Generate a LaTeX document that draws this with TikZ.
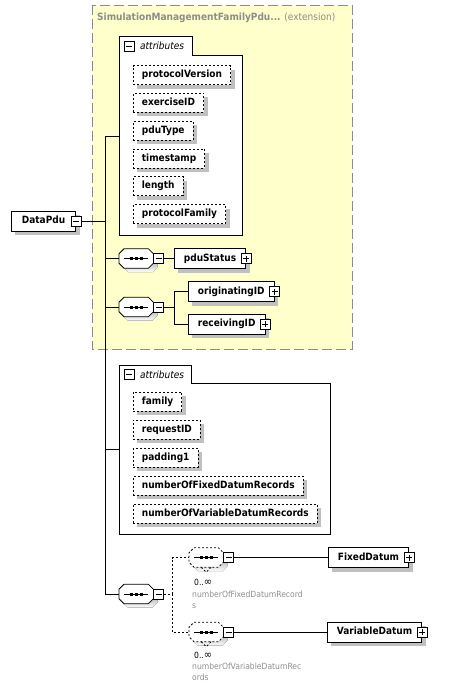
\documentclass[tikz,border=0pt]{standalone}
\usepackage{fontspec}
\setmainfont{DejaVu Sans Condensed}[
  BoldFont   = {DejaVu Sans Condensed Bold},
  ItalicFont = {DejaVu Sans Condensed Oblique}]
\usetikzlibrary{shadows,positioning}
\definecolor{extfill}{HTML}{FFFFCC}
\definecolor{extline}{HTML}{8C8C8C}
\definecolor{shade}{HTML}{C0C0C0}
\definecolor{notegray}{HTML}{8F8F8F}
\tikzset{
  boxshadow/.style = {drop shadow={shadow xshift=4pt, shadow yshift=-4pt,
                      fill=shade, opacity=1}},
  elemnode/.style  = {shape=rectangle, draw, fill=white, line width=0.8pt,
                      boxshadow, minimum height=20pt, inner xsep=9.5pt,
                      inner ysep=0pt, text height=7.5pt, text depth=2.2pt,
                      font=\fontsize{10}{12}\selectfont\bfseries, anchor=west},
  attrnode/.style  = {elemnode, minimum height=19pt, inner xsep=8.5pt,
                      dash pattern=on 2pt off 2pt},
  seqnode/.style   = {shape=rectangle, minimum width=34pt,
                      minimum height=19pt, inner sep=0pt, anchor=west},
  togglebox/.style = {draw, fill=white, line width=0.7pt,
                      minimum size=10pt, inner sep=0pt},
  minusbox/.style  = {togglebox, path picture={
      \draw ([xshift=2pt]path picture bounding box.west)
         -- ([xshift=-2pt]path picture bounding box.east);}},
  plusbox/.style   = {togglebox, path picture={
      \draw ([xshift=2pt]path picture bounding box.west)
         -- ([xshift=-2pt]path picture bounding box.east);
      \draw ([yshift=-2pt]path picture bounding box.north)
         -- ([yshift=2pt]path picture bounding box.south);}},
  grpbox/.style    = {draw, fill=white, line width=0.8pt},
  grplabel/.style  = {font=\fontsize{10}{12}\selectfont\itshape,
                      inner sep=0pt, anchor=west},
  link/.style      = {line width=0.8pt},
  optlink/.style   = {link, dash pattern=on 2pt off 2pt},
  mult/.style      = {font=\fontsize{8.5}{10}\selectfont, inner sep=0pt,
                      anchor=west},
  note/.style      = {font=\fontsize{8.5}{11.5}\selectfont, text=notegray,
                      align=left, inner sep=0pt, anchor=north west}
}
% octagon round a sequence node: node, x offset, y offset
\newcommand\seqoutline[3]{%
  ([xshift=#2+5pt,yshift=#3]#1.north west)
  -- ([xshift=#2-5pt,yshift=#3]#1.north east)
  -- ([xshift=#2,yshift=#3-5pt]#1.north east)
  -- ([xshift=#2,yshift=#3+5pt]#1.south east)
  -- ([xshift=#2-5pt,yshift=#3]#1.south east)
  -- ([xshift=#2+5pt,yshift=#3]#1.south west)
  -- ([xshift=#2,yshift=#3+5pt]#1.south west)
  -- ([xshift=#2,yshift=#3-5pt]#1.north west) -- cycle}

\begin{document}
\begin{tikzpicture}[x=1pt, y=-1pt]
  \useasboundingbox (0,0) rectangle (453,683);

  % extension base type
  \draw[fill=extfill, draw=extline, line width=0.9pt,
        dash pattern=on 10pt off 4pt] (92,5) rectangle (352,349);
  \node[anchor=west, inner sep=0pt, text=extline,
        font=\fontsize{10}{12}\selectfont] (exttitle) at (97,18)
        {\textbf{SimulationManagementFamilyPdu...} (extension)};

  % inherited attributes
  \draw[grpbox] (119,36) -- (192,36) -- (192,55) -- (242,55)
                -- (242,235) -- (119,235) -- cycle;
  \coordinate (grpa) at (119,136);
  \node[minusbox] (grpamin) at (129,46) {};
  \node[grplabel] (grpatext) at (140,46) {attributes};
  \node[attrnode] (protocolversion) at (133,75)    {protocolVersion};
  \node[attrnode] (exerciseid)      at (133,102.8) {exerciseID};
  \node[attrnode] (pdutype)         at (133,130.6) {pduType};
  \node[attrnode] (timestamp)       at (133,158.4) {timestamp};
  \node[attrnode] (length)          at (133,186.2) {length};
  \node[attrnode] (protocolfamily)  at (133,214)   {protocolFamily};

  % own attributes
  \draw[grpbox] (119,365) -- (191,365) -- (191,383) -- (330,383)
                -- (330,534) -- (119,534) -- cycle;
  \coordinate (grpb) at (119,449);
  \node[minusbox] (grpbmin) at (129,374.5) {};
  \node[grplabel] (grpbtext) at (140,374.5) {attributes};
  \node[attrnode] (family)     at (133,401.5) {family};
  \node[attrnode] (requestid)  at (133,429.5) {requestID};
  \node[attrnode] (padding)    at (133,457.5) {padding1};
  \node[attrnode] (nfixed)     at (133,485.5) {numberOfFixedDatumRecords};
  \node[attrnode] (nvariable)  at (133,513.5) {numberOfVariableDatumRecords};

  % elements
  \node[elemnode, inner xsep=10.5pt] (datapdu) at (11,221) {DataPdu};
  \node[elemnode] (pdustatus)     at (174,258.5) {pduStatus};
  \node[elemnode] (originatingid) at (188,291.5) {originatingID};
  \node[elemnode] (receivingid)   at (188,324)   {receivingID};
  \node[elemnode] (fixeddatum)    at (328,557.5) {FixedDatum};
  \node[elemnode] (variabledatum) at (327,632)   {VariableDatum};

  % sequences
  \node[seqnode] (seqa) at (119,258.5) {};
  \node[seqnode] (seqb) at (119,307)   {};
  \node[seqnode] (seqc) at (119,594)   {};
  \node[seqnode] (seqd) at (189,557.5) {};
  \node[seqnode] (seqe) at (189,632)   {};
  \foreach \s/\ls in {seqa/link,seqb/link,seqc/link,seqd/optlink,seqe/optlink} {
    \fill[shade] \seqoutline{\s}{4pt}{-4pt};
    \draw[\ls, fill=white] \seqoutline{\s}{0pt}{0pt};
    \draw[link] ([xshift=5pt]\s.west) -- ([xshift=-5pt]\s.east);
    \foreach \d in {-5,0,5}
      \fill ([xshift=\d pt]\s.center) ++(-1.6,-1.5) rectangle ++(3.2,3);
  }
  \foreach \s in {seqd,seqe}
    \draw[optlink] ([xshift=-5pt]\s.south) -- ++(5,5) -- ++(5,-5);
  \node[mult] (seqdmult) at (194,582) {0..{\fontsize{11}{10}\selectfont∞}};
  \node[note] (seqdnote) at (192,590.5) {numberOfFixedDatumRecord\\s};
  \node[mult] (seqemult) at (194,655) {0..{\fontsize{11}{10}\selectfont∞}};
  \node[note] (seqenote) at (192,662.5) {numberOfVariableDatumRec\\ords};

  % toggles
  \node[minusbox] (datapdumin) at (datapdu.east) {};
  \foreach \s/\t in {seqa/seqamin,seqb/seqbmin,seqc/seqcmin,
                     seqd/seqdmin,seqe/seqemin}
    \node[minusbox, anchor=west] (\t) at (\s.east) {};
  \foreach \e in {pdustatus,originatingid,receivingid,
                  fixeddatum,variabledatum}
    \node[plusbox] (\e plus) at (\e.east) {};

  % connectors
  \coordinate (trunktop) at (105,136);
  \coordinate (trunkend) at (105,594);
  \coordinate (forkb) at ([xshift=10pt]seqbmin.east);
  \coordinate (forkc) at ([xshift=8pt]seqcmin.east);
  \draw[link] (datapdumin.east) -- (datapdumin.east -| trunktop);
  \draw[link] (trunktop) -- (trunkend);
  \draw[link] (trunktop) -- (grpa);
  \draw[link] (seqa.west -| trunktop) -- (seqa.west);
  \draw[link] (seqamin.east) -- (pdustatus.west);
  \draw[link] (seqb.west -| trunktop) -- (seqb.west);
  \draw[link] (seqbmin.east) -- (forkb);
  \draw[link] (forkb) |- (originatingid.west);
  \draw[link] (forkb) |- (receivingid.west);
  \draw[link] (grpb -| trunktop) -- (grpb);
  \draw[link] (trunkend) -- (seqc.west);
  \draw[optlink] (seqcmin.east) -- (forkc);
  \draw[optlink] (forkc) |- (seqd.west);
  \draw[optlink] (forkc) |- (seqe.west);
  \draw[link] (seqdmin.east) -- (fixeddatum.west);
  \draw[link] (seqemin.east) -- (variabledatum.west);
\end{tikzpicture}
\end{document}
